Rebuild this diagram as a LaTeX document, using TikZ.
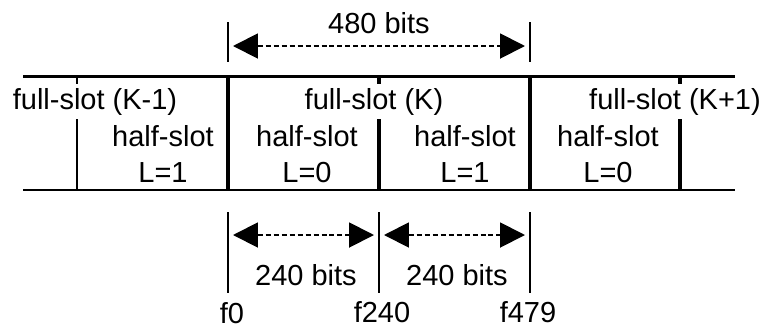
\documentclass[tikz,border=0pt]{standalone}
\usepackage{fontspec}
\setmainfont{Liberation Sans}
\usetikzlibrary{arrows.meta}
\tikzset{
    slotline/.style={line width=2pt},
    edgeline/.style={line width=1.4pt},
    tickline/.style={line width=1.1pt},
    spanarrow/.style={line width=1.1pt, dash pattern=on 0.1cm off 0.06cm, {Triangle[length=0.5cm, width=0.5cm]}-{Triangle[length=0.5cm, width=0.5cm]}, shorten <=0.1cm, shorten >=0.1cm},
    slottext/.style={anchor=base, inner sep=0.05cm},
    slotlabel/.style={anchor=base, inner sep=0.08cm, fill=white},
}

\begin{document}
\begin{tikzpicture}[x=0.02cm, y=-0.02cm, font=\fontsize{16.5}{19.8}\selectfont]
    \newcommand\posL{77}
    \newcommand\posS{228}
    \newcommand\posM{379}
    \newcommand\posE{530}
    \newcommand\posR{680}

    \useasboundingbox (0, 0) rectangle (765, 329);

    % frame of the slots
    \coordinate (topL) at (23, 76.5);
    \coordinate (topR) at (735, 76.5);
    \coordinate (botL) at (23, 190);
    \coordinate (botR) at (735, 190);
    \draw[edgeline] (topL) -- (topR);
    \draw[edgeline] (botL) -- (botR);

    \draw[edgeline] (\posL, 76.5) -- (\posL, 190);
    \draw[slotline] (\posS, 76.5) -- (\posS, 190);
    \draw[slotline] (\posM, 76.5) -- (\posM, 190);
    \draw[slotline] (\posE, 76.5) -- (\posE, 190);
    \draw[slotline] (\posR, 76.5) -- (\posR, 190);

    \node[slotlabel] (fullA) at (95, 109){full-slot (K-1)};
    \node[slotlabel] (fullB) at (374, 109){full-slot (K)};
    \node[slotlabel] (fullC) at (675, 109){full-slot (K+1)};

    \node[slottext] (halfA) at (163, 146){half-slot};
    \node[slottext] (halfB) at (307, 146){half-slot};
    \node[slottext] (halfC) at (465, 146){half-slot};
    \node[slottext] (halfD) at (608, 146){half-slot};

    \node[slottext] (numA) at (163, 182){L=1};
    \node[slottext] (numB) at (307, 182){L=0};
    \node[slottext] (numC) at (465, 182){L=1};
    \node[slottext] (numD) at (608, 182){L=0};

    % full-slot length
    \coordinate (tickS) at (\posS, 22);
    \coordinate (tickE) at (\posE, 22);
    \draw[tickline] (tickS) -- (\posS, 62);
    \draw[tickline] (tickE) -- (\posE, 62);
    \coordinate (spanS) at (\posS, 46);
    \coordinate (spanE) at (\posE, 46);
    \draw[spanarrow] (spanS) -- (spanE);
    \node[slottext] (len) at (379, 33){480 bits};

    % half-slot lengths
    \coordinate (lowS) at (\posS, 212);
    \coordinate (lowM) at (\posM, 212);
    \coordinate (lowE) at (\posE, 212);
    \draw[tickline] (lowS) -- (\posS, 293);
    \draw[tickline] (lowM) -- (\posM, 293);
    \draw[tickline] (lowE) -- (\posE, 293);
    \coordinate (halfS) at (\posS, 235);
    \coordinate (halfM) at (\posM, 235);
    \coordinate (halfE) at (\posE, 235);
    \draw[spanarrow] (halfS) -- (halfM);
    \draw[spanarrow] (halfM) -- (halfE);
    \node[slottext] (lenA) at (306, 285){240 bits};
    \node[slottext] (lenB) at (457, 285){240 bits};

    \node[slottext] (fA) at (232, 323){f0};
    \node[slottext] (fB) at (382, 322){f240};
    \node[slottext] (fC) at (528, 322){f479};
\end{tikzpicture}
\end{document}
